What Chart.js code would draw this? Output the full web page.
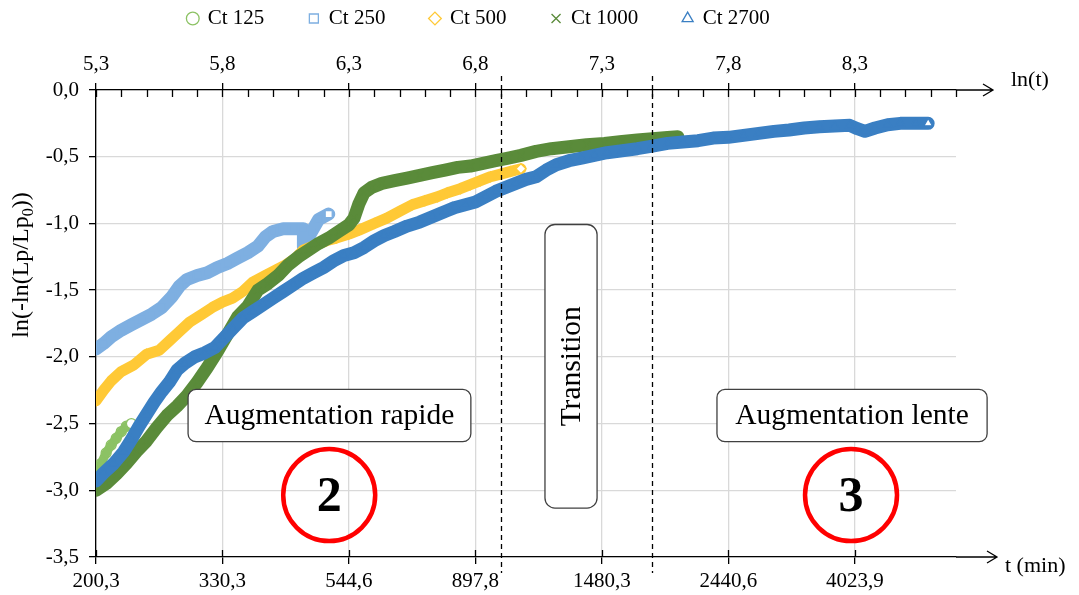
<!DOCTYPE html>
<html>
<head>
<meta charset="utf-8">
<script src="https://cdn.jsdelivr.net/npm/chart.js@4.4.1/dist/chart.umd.min.js"></script>
<style>
  html, body { margin: 0; padding: 0; background: #fff; }
</style>
</head>
<body>
<canvas id="courbeLp" width="1079" height="595"></canvas>
<script>
const serif = "'Liberation Serif', 'Times New Roman', serif";

// axes
const lnTicks = [5.3, 5.8, 6.3, 6.8, 7.3, 7.8, 8.3];
const lnTickLabels = ['5,3', '5,8', '6,3', '6,8', '7,3', '7,8', '8,3'];
const tLabels = ['200,3', '330,3', '544,6', '897,8', '1480,3', '2440,6', '4023,9'];
const yTicks = [0, -0.5, -1, -1.5, -2, -2.5, -3, -3.5];
const yTickLabels = ['0,0', '-0,5', '-1,0', '-1,5', '-2,0', '-2,5', '-3,0', '-3,5'];
const phaseLimits = [6.9, 7.5]; // ln(t) des deux traits pointilles

// Ct 125
const ct125X = [5.30, 5.32, 5.34, 5.36, 5.38, 5.40, 5.42, 5.44];
const ct125Y = [-2.89, -2.80, -2.72, -2.66, -2.61, -2.56, -2.52, -2.50];

// Ct 250
const ct250X = [5.30, 5.33, 5.36, 5.40, 5.44, 5.48, 5.52, 5.56, 5.60, 5.63, 5.66, 5.70, 5.74, 5.78, 5.82, 5.86, 5.90, 5.94, 5.97, 6.00, 6.04, 6.08, 6.12, 6.12, 6.15, 6.18, 6.22];
const ct250Y = [-1.94, -1.90, -1.85, -1.80, -1.76, -1.72, -1.68, -1.63, -1.55, -1.47, -1.42, -1.39, -1.37, -1.33, -1.30, -1.26, -1.22, -1.17, -1.10, -1.06, -1.04, -1.04, -1.04, -1.18, -1.07, -0.97, -0.93];

// Ct 500
const ct500X = [5.30, 5.33, 5.36, 5.40, 5.45, 5.50, 5.55, 5.59, 5.63, 5.67, 5.72, 5.76, 5.80, 5.84, 5.88, 5.92, 5.97, 6.01, 6.05, 6.09, 6.12, 6.17, 6.21, 6.25, 6.30, 6.34, 6.40, 6.45, 6.50, 6.55, 6.60, 6.65, 6.69, 6.74, 6.78, 6.82, 6.86, 6.90, 6.94, 6.98];
const ct500Y = [-2.33, -2.25, -2.18, -2.11, -2.06, -1.98, -1.95, -1.88, -1.81, -1.74, -1.68, -1.63, -1.59, -1.56, -1.51, -1.44, -1.39, -1.35, -1.31, -1.26, -1.20, -1.16, -1.13, -1.11, -1.08, -1.05, -1.00, -0.96, -0.91, -0.86, -0.83, -0.80, -0.77, -0.74, -0.71, -0.68, -0.65, -0.63, -0.61, -0.59];

// Ct 1000
const ct1000X = [5.30, 5.34, 5.38, 5.42, 5.46, 5.50, 5.54, 5.58, 5.62, 5.66, 5.70, 5.74, 5.78, 5.82, 5.86, 5.90, 5.94, 5.98, 6.02, 6.06, 6.10, 6.14, 6.18, 6.22, 6.26, 6.30, 6.32, 6.34, 6.36, 6.39, 6.43, 6.48, 6.53, 6.58, 6.63, 6.68, 6.73, 6.78, 6.83, 6.88, 6.93, 6.98, 7.04, 7.10, 7.17, 7.24, 7.31, 7.38, 7.44, 7.50, 7.56, 7.60];
const ct1000Y = [-3.00, -2.95, -2.88, -2.80, -2.71, -2.63, -2.53, -2.44, -2.37, -2.29, -2.19, -2.08, -1.96, -1.83, -1.70, -1.62, -1.50, -1.45, -1.39, -1.31, -1.25, -1.20, -1.15, -1.11, -1.06, -1.01, -0.96, -0.85, -0.77, -0.73, -0.70, -0.68, -0.66, -0.64, -0.62, -0.60, -0.58, -0.57, -0.55, -0.53, -0.51, -0.49, -0.46, -0.44, -0.425, -0.41, -0.40, -0.385, -0.375, -0.365, -0.355, -0.35];

// Ct 2700
const ct2700X = [5.30, 5.33, 5.37, 5.41, 5.44, 5.47, 5.50, 5.53, 5.56, 5.59, 5.62, 5.65, 5.69, 5.73, 5.77, 5.80, 5.84, 5.88, 5.92, 5.96, 6.00, 6.04, 6.08, 6.12, 6.16, 6.20, 6.24, 6.28, 6.32, 6.36, 6.40, 6.44, 6.48, 6.53, 6.58, 6.63, 6.68, 6.72, 6.76, 6.80, 6.84, 6.88, 6.92, 6.96, 7.00, 7.04, 7.08, 7.12, 7.17, 7.22, 7.27, 7.32, 7.38, 7.44, 7.50, 7.56, 7.62, 7.68, 7.74, 7.80, 7.86, 7.92, 7.98, 8.04, 8.10, 8.16, 8.22, 8.28, 8.31, 8.34, 8.38, 8.43, 8.48, 8.54, 8.59];
const ct2700Y = [-2.93, -2.87, -2.80, -2.71, -2.62, -2.52, -2.43, -2.34, -2.26, -2.19, -2.10, -2.05, -2.00, -1.97, -1.93, -1.87, -1.79, -1.71, -1.66, -1.61, -1.56, -1.51, -1.46, -1.41, -1.37, -1.33, -1.28, -1.24, -1.22, -1.18, -1.13, -1.09, -1.06, -1.02, -0.99, -0.95, -0.91, -0.88, -0.86, -0.84, -0.80, -0.76, -0.73, -0.70, -0.67, -0.65, -0.60, -0.56, -0.53, -0.51, -0.49, -0.47, -0.455, -0.44, -0.42, -0.40, -0.39, -0.38, -0.36, -0.355, -0.34, -0.325, -0.31, -0.30, -0.285, -0.275, -0.27, -0.265, -0.29, -0.31, -0.285, -0.26, -0.25, -0.25, -0.25];

const pts = (xs, ys) => xs.map((v, i) => ({ x: v, y: ys[i] }));

// dernier marqueur vide (fond blanc), les autres transparents
const lastWhite = c => c.dataIndex === c.dataset.data.length - 1 ? '#ffffff' : 'rgba(255,255,255,0)';

function serie(label, xs, ys, color, style, band, order) {
    return {
        label: label,
        data: pts(xs, ys),
        showLine: true,
        borderColor: color,
        borderWidth: band,
        borderJoinStyle: 'round',
        borderCapStyle: 'round',
        pointStyle: style,
        pointRadius: 5,
        pointBorderWidth: 1.3,
        pointBorderColor: color,
        pointBackgroundColor: lastWhite,
        order: order
    };
}

let x2Height = 40;

const decor = {
    id: 'decor',
    afterDatasetsDraw(chart) {
        const { ctx, chartArea: a, scales: { x, y } } = chart;
        ctx.save();

        // limites de phases
        ctx.strokeStyle = '#000';
        ctx.lineWidth = 1.3;
        ctx.setLineDash([5, 4]);
        phaseLimits.forEach(v => {
            const px = Math.round(x.getPixelForValue(v)) + 0.5;
            ctx.beginPath();
            ctx.moveTo(px, a.top - 14);
            ctx.lineTo(px, a.bottom + 16);
            ctx.stroke();
        });
        ctx.setLineDash([]);

        // boites de texte
        const box = (x0, y0, x1, y1, r) => {
            const l = x.getPixelForValue(x0), rr = x.getPixelForValue(x1);
            const t = y.getPixelForValue(y0), b = y.getPixelForValue(y1);
            ctx.beginPath();
            ctx.roundRect(l, t, rr - l, b - t, r);
            ctx.fillStyle = '#fff';
            ctx.fill();
            ctx.strokeStyle = '#404040';
            ctx.lineWidth = 1.3;
            ctx.stroke();
            return { cx: (l + rr) / 2, cy: (t + b) / 2 };
        };
        ctx.font = '29.5px ' + serif;
        ctx.textAlign = 'center';
        ctx.textBaseline = 'middle';

        let c = box(5.664, -2.244, 6.782, -2.636, 8);
        ctx.fillStyle = '#000';
        ctx.fillText('Augmentation rapide', c.cx, c.cy + 1);

        c = box(7.755, -2.244, 8.823, -2.636, 8);
        ctx.fillStyle = '#000';
        ctx.fillText('Augmentation lente', c.cx, c.cy + 1);

        c = box(7.075, -1.008, 7.281, -3.133, 10);
        ctx.fillStyle = '#000';
        ctx.save();
        ctx.translate(c.cx + 1, c.cy);
        ctx.rotate(-Math.PI / 2);
        ctx.fillText('Transition', 0, 0);
        ctx.restore();

        // cercles rouges
        [[6.222, '2'], [8.285, '3']].forEach(([v, txt]) => {
            const cx = x.getPixelForValue(v), cy = y.getPixelForValue(-3.036);
            ctx.beginPath();
            ctx.arc(cx, cy, 46, 0, Math.PI * 2);
            ctx.strokeStyle = '#ff0000';
            ctx.lineWidth = 4.5;
            ctx.stroke();
            ctx.fillStyle = '#000';
            ctx.font = 'bold 50px ' + serif;
            ctx.fillText(txt, cx, cy + 3);
        });
        ctx.restore();
    },
    afterDraw(chart) {
        const { ctx, chartArea: a, scales: { x } } = chart;
        ctx.save();
        ctx.strokeStyle = '#000';
        ctx.lineWidth = 1.3;

        // graduations internes
        ctx.beginPath();
        for (let i = 0; i <= 34; i++) {
            const v = 5.3 + i * 0.1;
            const px = Math.round(x.getPixelForValue(v)) + 0.5;
            ctx.moveTo(px, a.top);
            ctx.lineTo(px, a.top + 7);
        }
        lnTicks.forEach(v => {
            const px = Math.round(x.getPixelForValue(v)) + 0.5;
            ctx.moveTo(px, a.bottom);
            ctx.lineTo(px, a.bottom - 7);
        });
        ctx.stroke();

        // fleches des axes
        const arrow = (yy, x1) => {
            ctx.beginPath();
            ctx.moveTo(a.right, yy);
            ctx.lineTo(x1, yy);
            ctx.moveTo(x1 - 10, yy - 6);
            ctx.lineTo(x1, yy);
            ctx.lineTo(x1 - 10, yy + 6);
            ctx.stroke();
        };
        arrow(a.top, 993);
        arrow(a.bottom, 997);

        ctx.fillStyle = '#000';
        ctx.font = '22px ' + serif;
        ctx.textBaseline = 'middle';
        ctx.textAlign = 'left';
        ctx.fillText('ln(t)', 1011, 80);
        ctx.fillText('t (min)', 1005, 566);

        // titre de l'axe y avec indice
        ctx.save();
        ctx.translate(22, 265);
        ctx.rotate(-Math.PI / 2);
        const p1 = 'ln(-ln(Lp/Lp', p2 = '0', p3 = '))';
        ctx.font = '24px ' + serif;
        const w1 = ctx.measureText(p1).width, w3 = ctx.measureText(p3).width;
        ctx.font = '16px ' + serif;
        const w2 = ctx.measureText(p2).width;
        let sx = -(w1 + w2 + w3) / 2;
        ctx.font = '24px ' + serif;
        ctx.fillText(p1, sx, 0);
        ctx.font = '16px ' + serif;
        ctx.fillText(p2, sx + w1, 7);
        ctx.font = '24px ' + serif;
        ctx.fillText(p3, sx + w1 + w2, 0);
        ctx.restore();

        ctx.restore();
    }
};

const tickFont = { family: serif, size: 21 };

const chart = new Chart(document.getElementById('courbeLp'), {
    type: 'scatter',
    data: {
        datasets: [
            serie('Ct 125', ct125X, ct125Y, '#8cc264', 'circle', 9, 5),
            serie('Ct 250', ct250X, ct250Y, '#7eafe1', 'rect', 13, 4),
            serie('Ct 500', ct500X, ct500Y, '#ffc936', 'rectRot', 11, 3),
            serie('Ct 1000', ct1000X, ct1000Y, '#5a8b3a', 'crossRot', 13, 2),
            serie('Ct 2700', ct2700X, ct2700Y, '#3a7fc3', 'triangle', 13, 1)
        ]
    },
    options: {
        responsive: false,
        animation: false,
        layout: { padding: { top: -37, left: 0, right: 121, bottom: 0 } },
        plugins: {
            legend: {
                position: 'top',
                labels: {
                    usePointStyle: true,
                    boxWidth: 9,
                    boxHeight: 9,
                    padding: 45,
                    color: '#000',
                    font: { family: serif, size: 21 },
                    sort: (p, q) => p.datasetIndex - q.datasetIndex
                }
            },
            tooltip: { enabled: false }
        },
        scales: {
            x: {
                type: 'linear',
                position: 'bottom',
                min: 5.3,
                max: 8.7,
                afterBuildTicks: s => { s.ticks = lnTicks.map(v => ({ value: v })); },
                afterFit: s => { s.height = 38; },
                ticks: {
                    callback: (v, i) => tLabels[i],
                    color: '#000',
                    font: tickFont,
                    padding: 5,
                    maxRotation: 0,
                    autoSkip: false
                },
                grid: { color: '#d9d9d9', lineWidth: 1.3, tickColor: '#000', tickLength: 7 },
                border: { color: '#000', width: 1.3 }
            },
            x2: {
                type: 'linear',
                position: 'top',
                min: 5.3,
                max: 8.7,
                afterBuildTicks: s => { s.ticks = lnTicks.map(v => ({ value: v })); },
                afterFit: s => { s.height = x2Height; },
                ticks: {
                    callback: (v, i) => lnTickLabels[i],
                    color: '#000',
                    font: tickFont,
                    padding: 6,
                    maxRotation: 0,
                    autoSkip: false
                },
                grid: { drawOnChartArea: false, lineWidth: 1.3, tickColor: '#000', tickLength: 7 },
                border: { color: '#000', width: 1.3 }
            },
            y: {
                min: -3.5,
                max: 0,
                afterBuildTicks: s => { s.ticks = yTicks.map(v => ({ value: v })); },
                afterFit: s => { s.width = 96; },
                ticks: {
                    callback: (v, i) => yTickLabels[i],
                    color: '#000',
                    font: tickFont,
                    padding: 10
                },
                grid: { color: '#d9d9d9', lineWidth: 1.3, tickColor: '#000', tickLength: 7 },
                border: { color: '#000', width: 1.3 }
            },
            y2: {
                position: 'right',
                min: -3.5,
                max: 0,
                afterFit: s => { s.width = 2; },
                ticks: { display: false },
                grid: { display: false },
                border: { display: false }
            }
        }
    },
    plugins: [decor]
});

// caler le haut de la zone de trace sur l'axe ln(t)
x2Height += 90 - chart.chartArea.top;
chart.update();
</script>
</body>
</html>
